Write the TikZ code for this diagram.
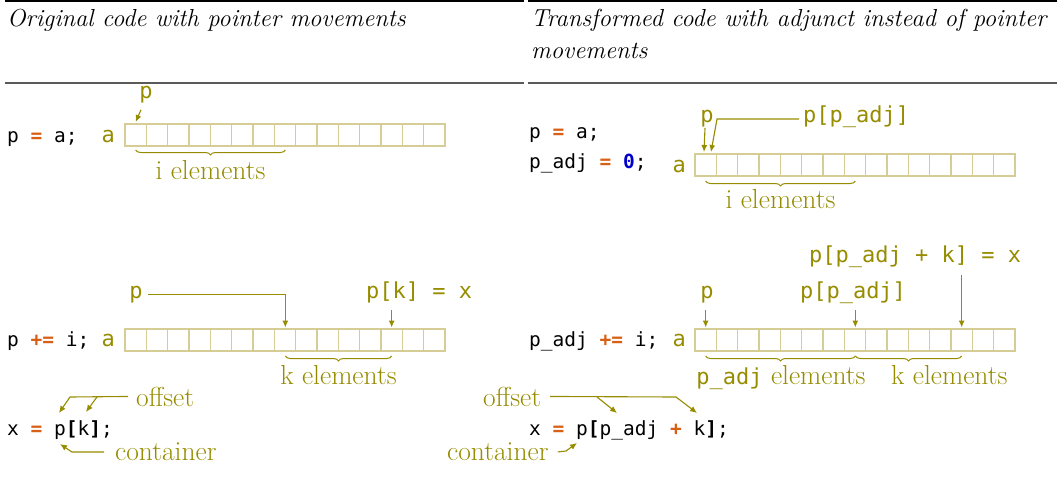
\documentclass[tikz,border=0pt]{standalone}
\usepackage{fontspec}
\setmonofont{DejaVu Sans Mono}
\usetikzlibrary{arrows.meta,decorations.pathreplacing,calc}
\definecolor{olv}{RGB}{150,140,0}
\definecolor{cellc}{RGB}{214,205,150}
\definecolor{kw}{RGB}{217,95,20}
\definecolor{num}{RGB}{0,0,204}
\definecolor{rulegray}{RGB}{90,90,90}
\newcommand{\op}[1]{\textcolor{kw}{\textbf{#1}}}
\newcommand{\arrcells}[2]{%
  \foreach \i in {0,...,14} \draw[cellbox] (#1+\i*21.3333,#2) rectangle ++(21.3333,22);}
\tikzset{
  code/.style={font=\fontsize{19.5}{22}\selectfont\ttfamily, inner sep=0, text=black},
  lab/.style={font=\fontsize{22}{26}\selectfont\ttfamily, inner sep=0, text=olv},
  txt/.style={font=\fontsize{27.5}{32}\selectfont, inner sep=0, text=olv},
  hdr/.style={font=\fontsize{24.6}{32}\selectfont\itshape, inner sep=0, text=black},
  arr/.style={draw=olv, line width=1.1pt, -{Latex[length=7pt,width=6pt]}},
  brc/.style={draw=olv, line width=1pt, decorate, decoration={brace,mirror,amplitude=5pt}},
  cellbox/.style={draw=cellc, line width=1.3pt},
}
\begin{document}
\begin{tikzpicture}[x=1pt,y=-1pt]
\useasboundingbox (0,0) rectangle (1059,485);
% rules
\draw[black,line width=1.3pt] (5,1) -- (524,1);
\draw[black,line width=1.3pt] (528,1) -- (1057,1);
\draw[rulegray,line width=1.3pt] (5,83) -- (524,83);
\draw[rulegray,line width=1.3pt] (528,83) -- (1057,83);
% headers
\node[hdr,anchor=base west] (h1) at (7,26) {Original code with pointer movements};
\node[hdr,anchor=base west] (h2) at (531,26) {Transformed code with adjunct instead of pointer};
\node[hdr,anchor=base west] (h3) at (531,58) {movements};

% ---------- left row 1
\node[code,anchor=base west] (c1) at (7,142) {p \op{=} a;};
\node[lab,anchor=base west] (a1) at (101.5,142) {a};
\arrcells{125}{124}
\coordinate (A1c0) at (135.67,122);
\coordinate (A1b0) at (135.67,150);
\coordinate (A1b7) at (285.33,150);
\node[lab,anchor=base] (p1) at (146,98) {p};
\draw[arr] ($(p1.south)+(-5,7)$) -- (A1c0);
\draw[brc] (A1b0) -- (A1b7);
\node[txt,anchor=base] (ie1) at (210.5,179) {i elements};

% ---------- left row 2
\node[code,anchor=base west] (c2) at (7,346) {p \op{+=} i;};
\node[lab,anchor=base west] (a2) at (101.5,346) {a};
\arrcells{125}{329}
\coordinate (A2c7) at (285.33,327.5);
\coordinate (A2c12) at (391.67,327.5);
\coordinate (A2b7) at (285.33,356);
\coordinate (A2b12) at (391.67,356);
\node[lab,anchor=base] (p2) at (136,298) {p};
\draw[arr] ([xshift=5pt]p2.east) -| (A2c7);
\node[lab,anchor=base west] (pk) at (366,298) {p[k] = x};
\draw[arr] ($(A2c12 |- pk.south)+(0,7)$) -- (A2c12);
\draw[brc] (A2b7) -- (A2b12);
\node[txt,anchor=base] (ke1) at (338.5,384) {k elements};

% ---------- left row 3
\node[code,anchor=base west] (c3) at (7,435) {x \op{=} p\textbf{[}k\textbf{]};};
\node[txt,anchor=base west] (off1) at (136,406) {offset};
\coordinate (o1a) at (70,397);
\coordinate (o1b) at (97,397);
\coordinate (o1t1) at (59,413);
\coordinate (o1t2) at (86,412);
\draw[arr] ([xshift=-8pt]off1.west) -- (o1a) -- (o1t1);
\draw[arr] (o1b) -- (o1t2);
\node[txt,anchor=base west] (con1) at (115,460.7) {container};
\coordinate (k1a) at (72,452);
\coordinate (k1t) at (60,444);
\draw[arr] ([xshift=-11pt]con1.west) -- (k1a) -- (k1t);

% ---------- right rows 1-2
\node[code,anchor=base west] (c4) at (529,138) {p \op{=} a;};
\node[code,anchor=base west] (c5) at (529,168) {p\_adj \op{=} \textcolor{num}{\textbf{0}};};
\node[lab,anchor=base west] (a3) at (672.5,172) {a};
\arrcells{695}{154}
\coordinate (A3t0) at (704,152);
\coordinate (A3t1) at (711,152);
\coordinate (A3k) at (717,119);
\coordinate (A3b0) at (705.67,181);
\coordinate (A3b7) at (855.33,181);
\node[lab,anchor=base] (p3) at (707,122) {p};
\node[lab,anchor=base west] (pp1) at (803,122) {p[p\_adj]};
\draw[arr] ($(p3.south)+(-2,1)$) -- (A3t0);
\draw[arr] ($(pp1.base west)+(-4,-3)$) -- (A3k) -- (A3t1);
\draw[brc] (A3b0) -- (A3b7);
\node[txt,anchor=base] (ie2) at (780.5,208) {i elements};

% ---------- right row 4
\node[code,anchor=base west] (c6) at (529,346) {p\_adj \op{+=} i;};
\node[lab,anchor=base west] (a4) at (672.5,346) {a};
\arrcells{695}{329}
\coordinate (A4c0) at (705.67,327.5);
\coordinate (A4c7) at (855.33,327.5);
\coordinate (A4c12) at (961.67,327.5);
\coordinate (A4b0) at (705.67,356);
\coordinate (A4b7) at (855.33,356);
\coordinate (A4b12) at (961.67,356);
\node[lab,anchor=base] (p4) at (707,298) {p};
\node[lab,anchor=base] (pp2) at (853,298) {p[p\_adj]};
\node[lab,anchor=base west] (pp3) at (809,262) {p[p\_adj + k] = x};
\draw[arr] ($(A4c0 |- p4.south)+(0,7)$) -- (A4c0);
\draw[arr] ($(A4c7 |- pp2.south)+(0,7)$) -- (A4c7);
\draw[arr] ($(A4c12 |- pp3.south)+(0,8)$) -- (A4c12);
\draw[brc] (A4b0) -- (A4b7);
\draw[brc] (A4b7) -- (A4b12);
\node[txt,anchor=base] (pe) at (781,384) {{\fontsize{22}{26}\selectfont\ttfamily p\_adj} elements};
\node[txt,anchor=base west] (ke2) at (891,384) {k elements};

% ---------- right row 5
\node[code,anchor=base west] (c7) at (529,435) {x \op{=} p\textbf{[}p\_adj \op{+} k\textbf{]};};
\node[txt,anchor=base west] (off2) at (483,406) {offset};
\coordinate (o2a) at (676,397);
\coordinate (o2b) at (597,397);
\coordinate (o2t1) at (697,413);
\coordinate (o2t2) at (617,413);
\draw[arr] ([xshift=9pt]off2.east) -- (o2a) -- (o2t1);
\draw[arr] (o2b) -- (o2t2);
\node[txt,anchor=base west] (con2) at (447,460.7) {container};
\coordinate (k2a) at (566,451);
\coordinate (k2t) at (577,443);
\draw[arr] ([xshift=9pt]con2.east) -- (k2a) -- (k2t);
\end{tikzpicture}
\end{document}
